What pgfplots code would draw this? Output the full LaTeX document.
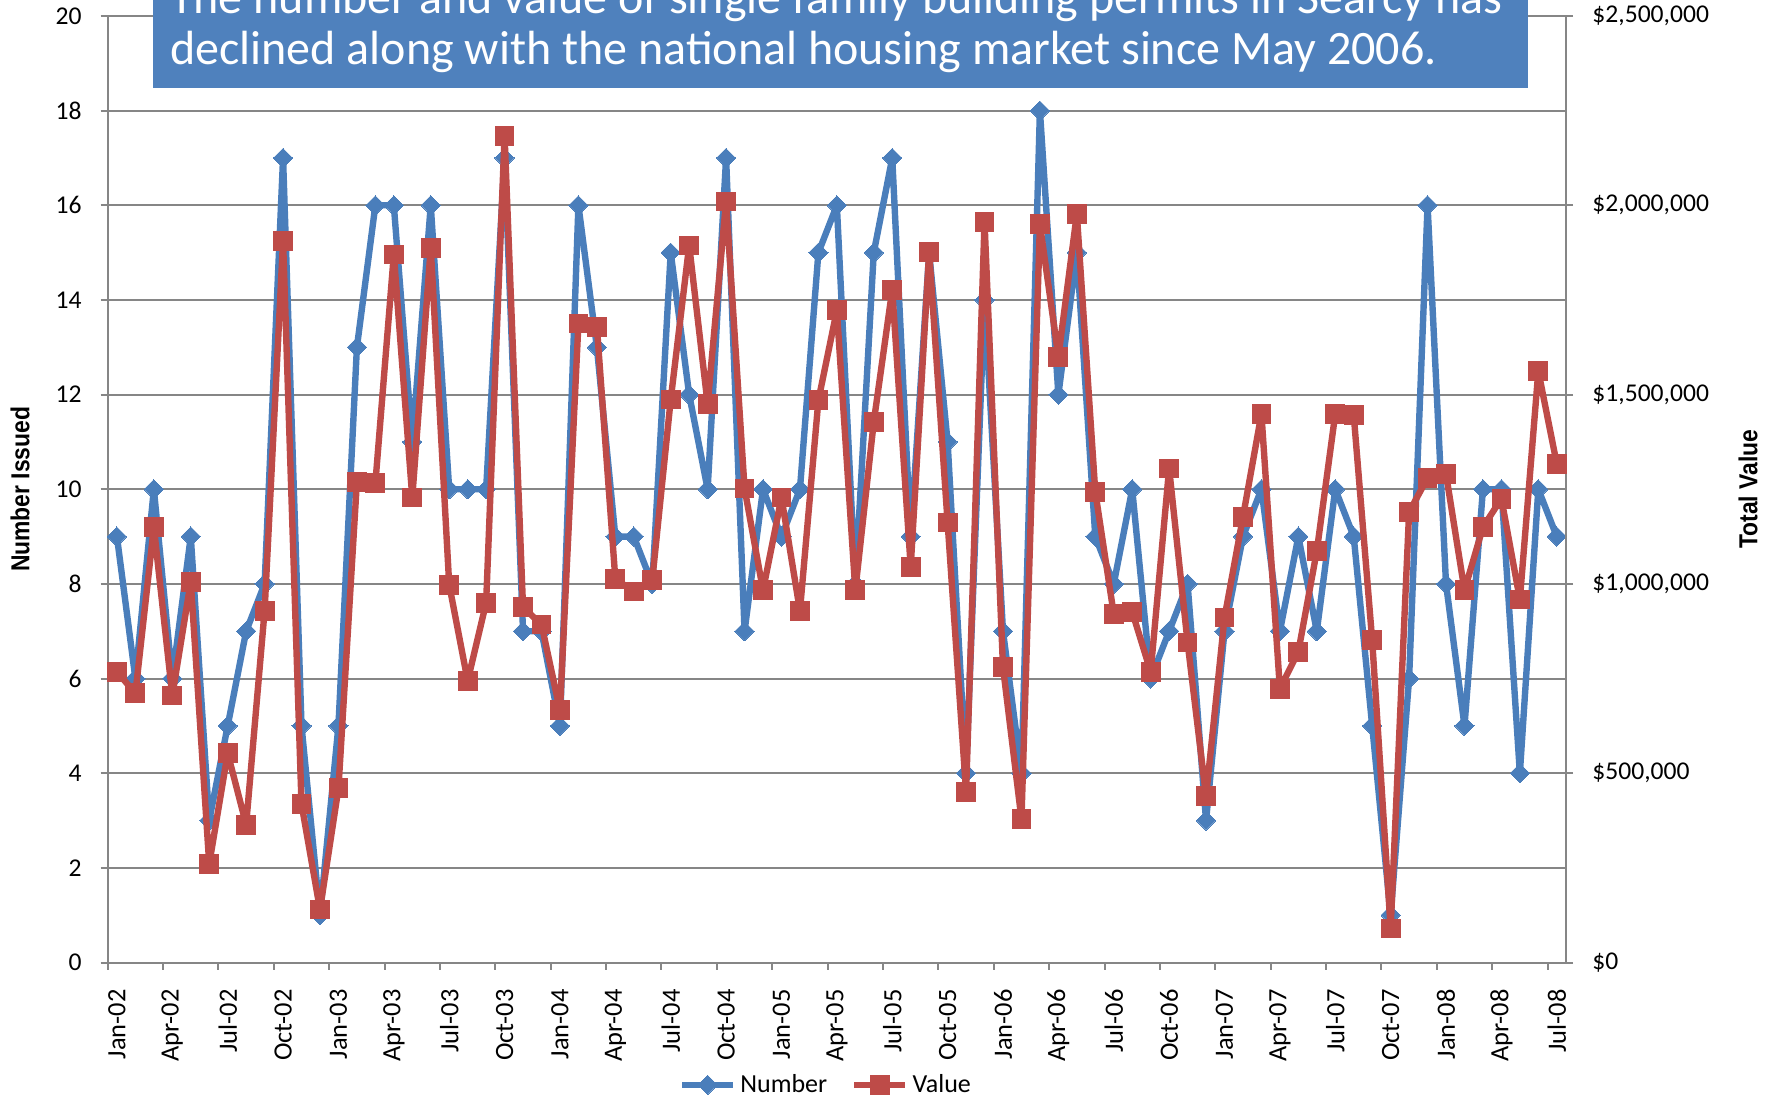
\documentclass[border=0pt]{standalone}
\usepackage{pgfplots}
\usepackage{pgfplotstable}
\pgfplotsset{compat=1.18}
\usepackage{fontspec}
\setmainfont{Carlito}
\newfontfamily\labfont[FakeStretch=0.88]{Liberation Sans}
\definecolor{cblue}{RGB}{74,126,187}
\definecolor{cred}{RGB}{190,75,72}
\definecolor{boxblue}{RGB}{79,129,189}
\definecolor{gridgray}{RGB}{134,134,134}

\pgfplotstableread{
i num val
0 9 768000
1 6 711000
2 10 1150000
3 6 705000
4 9 1006000
5 3 260000
6 5 553000
7 7 364000
8 8 929000
9 17 1906000
10 5 418000
11 1 140000
12 5 460000
13 13 1270000
14 16 1266000
15 16 1870000
16 11 1228000
17 16 1888000
18 10 998000
19 10 744000
20 10 950000
21 17 2183000
22 7 938000
23 7 893000
24 5 666000
25 16 1688000
26 13 1679000
27 9 1013000
28 9 980000
29 8 1010000
30 15 1487000
31 12 1894000
32 10 1475000
33 17 2010000
34 7 1252000
35 10 983000
36 9 1228000
37 10 929000
38 15 1485000
39 16 1723000
40 8 983000
41 15 1428000
42 17 1777000
43 9 1045000
44 15 1876000
45 11 1162000
46 4 451000
47 14 1956000
48 7 780000
49 4 379000
50 18 1950000
51 12 1600000
52 15 1977000
53 9 1243000
54 8 920000
55 10 926000
56 6 768000
57 7 1305000
58 8 845000
59 3 439000
60 7 911000
61 9 1177000
62 10 1449000
63 7 723000
64 9 821000
65 7 1087000
66 10 1449000
67 9 1446000
68 5 851000
69 1 90000
70 6 1190000
71 16 1280000
72 8 1290000
73 5 983000
74 10 1150000
75 10 1225000
76 4 959000
77 10 1562000
78 9 1317000
}\datatable

\pgfplotsset{
  bluestyle/.style={cblue, line width=3.2pt, line join=round, mark=square*, mark size=3.4pt,
    mark options={rotate=45, fill=cblue, draw=cblue, line width=0pt}},
  redstyle/.style={cred, line width=3.2pt, line join=round, mark=square*, mark size=4.7pt,
    mark options={fill=cred, draw=cred, line width=0pt}},
  common/.style={
    scale only axis, width=729.15pt, height=473.25pt,
    xmin=-0.5, xmax=78.5,
    axis line style={gridgray, line width=1pt},
    tick style={gridgray, line width=1pt},
    tick align=outside, major tick length=3.5pt,
    /pgf/number format/assume math mode=true,
    tick label style={font=\fontsize{12.8pt}{15pt}\selectfont},
  },
}

\begin{document}
\begin{tikzpicture}
\useasboundingbox (-53.85pt,-69.75pt) rectangle (831.65pt,481.25pt);
\begin{scope}
\clip (-53.85pt,-69.75pt) rectangle (831.65pt,481.25pt);
\begin{axis}[common,
  ymin=0, ymax=20,
  axis x line*=bottom, axis y line*=left,
  ytick={0,2,...,20},
  ymajorgrids, grid style={gridgray, line width=1pt},
  yticklabel style={inner sep=0pt, anchor=east},
  yticklabel shift=9.3pt,
  xtick={-0.5,2.5,...,77.5},
  xticklabel={\relax},
  extra x ticks={0,3,...,78},
  extra x tick labels={Jan-02,Apr-02,Jul-02,Oct-02,Jan-03,Apr-03,Jul-03,Oct-03,Jan-04,Apr-04,Jul-04,Oct-04,Jan-05,Apr-05,Jul-05,Oct-05,Jan-06,Apr-06,Jul-06,Oct-06,Jan-07,Apr-07,Jul-07,Oct-07,Jan-08,Apr-08,Jul-08},
  extra x tick style={major tick length=0pt, xticklabel style={rotate=90, anchor=east, inner sep=0pt, font=\fontsize{13.2pt}{15pt}\selectfont}, xticklabel shift=13.2pt},
  ylabel={Number Issued},
  ylabel style={at={(axis description cs:-0.0601,0.5)}, anchor=center, font=\labfont\bfseries\fontsize{13pt}{15pt}\selectfont},
]
\addplot[bluestyle] table[x=i, y=num] {\datatable};
\end{axis}
\begin{axis}[common,
  ymin=0, ymax=2500000,
  axis x line=none, axis y line*=right,
  scaled y ticks=false,
  ytick={0,500000,1000000,1500000,2000000,2500000},
  yticklabels={{\$0},{\$500,000},{\$1,000,000},{\$1,500,000},{\$2,000,000},{\$2,500,000}},
  yticklabel style={inner sep=0pt, anchor=west},
  yticklabel shift=9.5pt,
  ylabel={Total Value},
  ylabel style={at={(axis description cs:1.1248,0.5)}, anchor=center, font=\labfont\bfseries\fontsize{13pt}{15pt}\selectfont},
  legend style={at={(axis description cs:0.4932,-0.1294)}, anchor=center, draw=none, fill=none,
    legend columns=2, font=\fontsize{13pt}{15pt}\selectfont,
    /tikz/every even column/.append style={column sep=10pt}},
  legend image code/.code={\draw[mark repeat=2,mark phase=2,#1] plot coordinates {(0pt,0pt)(12.75pt,0pt)(25.5pt,0pt)};},
]
\addlegendimage{bluestyle}
\addlegendentry{Number}
\addplot[redstyle] table[x=i, y=val] {\datatable};
\addlegendentry{Value}
\end{axis}
\fill[boxblue] (22.4pt,437.4pt) rectangle (709.95pt,530pt);
\node[anchor=base west, inner sep=0pt, text=white, font=\fontsize{24pt}{29pt}\selectfont] at (31.15pt,474.5pt) {The number and value of single family building permits in Searcy has};
\node[anchor=base west, inner sep=0pt, text=white, font=\fontsize{24pt}{29pt}\selectfont] at (31.15pt,449pt) {declined along with the national housing market since May 2006.};
\end{scope}
\end{tikzpicture}
\end{document}
